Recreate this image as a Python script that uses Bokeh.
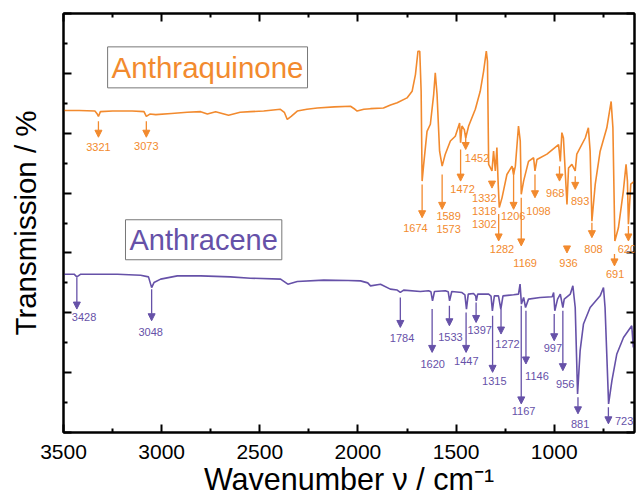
import math
from bokeh.plotting import figure
from bokeh.models import (Range1d, LinearAxis, FixedTicker, Label, LabelSet,
                          Arrow, NormalHead, ColumnDataSource)
from bokeh.embed import file_html
from bokeh.resources import INLINE
from bokeh.core.properties import value

# ---------------- data ----------------
anthraquinone_wn = [3500, 3420, 3340, 3330, 3322, 3312, 3250, 3150, 3090, 3078, 3060, 3030, 2950, 2870,
                    2801, 2767, 2725, 2659, 2600, 2547, 2480, 2395, 2375, 2360, 2340, 2309, 2260, 2207,
                    2120, 2038, 2015, 2004, 1970, 1936, 1870, 1834, 1800, 1750, 1724, 1707, 1694, 1685,
                    1678, 1673, 1665, 1648, 1631, 1614, 1606, 1597, 1584, 1571, 1555, 1529, 1504, 1482,
                    1477, 1470, 1458, 1451, 1436, 1402, 1377, 1360, 1346, 1340, 1334, 1317, 1309, 1300,
                    1292, 1286, 1280, 1266, 1241, 1215, 1207, 1198, 1182, 1173, 1168, 1156, 1131, 1105,
                    1098, 1088, 1037, 978, 969, 961, 953, 935, 927, 910, 893, 885, 842, 826, 817, 808,
                    791, 766, 732, 710, 701, 691, 673, 648, 634, 627, 622, 610, 591]
anthraquinone_t = [5.38, 5.38, 5.37, 5.33, 5.28, 5.36, 5.37, 5.37, 5.36, 5.28, 5.32, 5.31, 5.33, 5.35,
                   5.36, 5.32, 5.36, 5.30, 5.35, 5.36, 5.37, 5.40, 5.35, 5.23, 5.28, 5.37, 5.40, 5.42,
                   5.44, 5.45, 5.40, 5.37, 5.40, 5.41, 5.42, 5.47, 5.51, 5.59, 5.70, 5.98, 6.37, 6.37,
                   5.70, 4.20, 4.48, 5.03, 5.15, 5.65, 6.01, 5.65, 4.70, 4.45, 4.65, 4.87, 4.95, 5.17,
                   4.84, 5.12, 5.06, 4.92, 5.12, 5.40, 5.70, 6.03, 6.37, 6.20, 4.48, 4.37, 4.70, 4.37,
                   4.76, 4.20, 3.76, 3.92, 4.31, 4.45, 4.31, 4.45, 5.12, 4.87, 3.98, 4.20, 4.53, 4.59,
                   4.37, 4.56, 4.65, 4.81, 4.53, 5.01, 4.92, 3.81, 4.42, 4.48, 4.37, 4.65, 4.92, 5.09,
                   4.70, 3.53, 4.15, 4.70, 5.09, 5.53, 5.09, 3.20, 3.42, 4.03, 4.48, 4.20, 3.48, 4.15, 4.20]

anthracene_wn = [3500, 3446, 3432, 3412, 3300, 3225, 3107, 3067, 3051, 3039, 3005, 2920, 2801, 2650,
                 2547, 2394, 2357, 2309, 2174, 2050, 1987, 1950, 1936, 1885, 1835, 1800, 1784, 1767,
                 1682, 1640, 1628, 1620, 1610, 1555, 1540, 1533, 1522, 1470, 1455, 1447, 1438, 1411,
                 1400, 1397, 1390, 1334, 1322, 1315, 1305, 1284, 1272, 1261, 1207, 1182, 1174, 1167,
                 1156, 1146, 1131, 1072, 1010, 1003, 997, 983, 969, 956, 949, 918, 905, 893, 881, 868,
                 851, 817, 766, 749, 741, 723, 706, 681, 647, 605, 597, 591]
anthracene_t = [2.645, 2.645, 2.60, 2.645, 2.645, 2.645, 2.628, 2.60, 2.42, 2.505, 2.562, 2.617, 2.617, 2.60,
                2.578, 2.562, 2.478, 2.522, 2.545, 2.54, 2.533, 2.50, 2.45, 2.478, 2.395, 2.38, 2.34, 2.378,
                2.355, 2.367, 2.35, 2.20, 2.355, 2.367, 2.35, 2.20, 2.355, 2.338, 2.30, 2.062, 2.312, 2.322,
                2.28, 2.20, 2.312, 2.312, 2.28, 2.033, 2.283, 2.283, 2.062, 2.283, 2.30, 2.312, 2.478, 2.145,
                2.255, 2.088, 2.228, 2.255, 2.267, 2.338, 2.033, 2.228, 2.312, 2.088, 2.228, 2.312, 2.45, 2.088, 0.645, 1.367,
                1.812, 2.088, 2.283, 2.422, 2.088, 0.478, 0.867, 1.312, 1.588, 1.783, 1.422, 1.50]

# peak annotations: arrow position, arrow top/bottom, label position, label text
aq_arrow_x = [3322, 3078, 1673, 1571, 1477, 1451, 1317, 1283, 1207, 1168, 1098, 973, 935, 893, 808, 693, 622]
aq_arrow_y0 = [5.20, 5.20, 4.145, 4.312, 4.728, 5.005, 4.20, 3.65, 4.422, 3.922, 4.312, 4.45, 3.117, 4.283, 3.505, 2.983, 3.45]
aq_arrow_y1 = [4.933, 4.933, 3.588, 3.728, 4.20, 4.728, 4.083, 3.20, 3.728, 3.117, 3.922, 4.20, 3.0, 4.062, 3.255, 2.783, 3.20]
aq_label_x = [3322, 3078, 1707, 1538, 1538, 1467, 1393, 1356, 1356, 1356, 1266, 1209, 1148, 1080, 995, 927, 868, 800, 690, 630]
aq_label_y = [4.767, 4.783, 3.422, 3.617, 3.405, 4.062, 4.588, 3.922, 3.70, 3.488, 3.062, 3.617, 2.838, 3.70, 4.005, 2.838, 3.867, 3.062, 2.645, 3.062]
aq_label_text = ["3321", "3073", "1674", "1589", "1573", "1472", "1452", "1332", "1318", "1302", "1282",
                 "1206", "1169", "1098", "968", "936", "893", "808", "691", "620"]

an_arrow_x = [3432, 3051, 1784, 1622, 1534, 1449, 1398, 1314, 1271, 1168, 1144, 1000, 956, 879, 724]
an_arrow_y0 = [2.588, 2.395, 2.255, 2.062, 2.117, 2.005, 2.172, 1.95, 2.062, 2.117, 2.033, 1.978, 2.033, 0.588, 0.422]
an_arrow_y1 = [2.062, 1.867, 1.755, 1.338, 1.783, 1.338, 1.838, 1.005, 1.645, 0.478, 1.145, 1.533, 1.033, 0.312, 0.145]
an_label_x = [3395, 3056, 1775, 1619, 1529, 1448, 1380, 1305, 1238, 1156, 1088, 1007, 944, 868, 644]
an_label_y = [1.933, 1.672, 1.578, 1.145, 1.60, 1.188, 1.712, 0.867, 1.478, 0.367, 0.95, 1.412, 0.812, 0.145, 0.20]
an_label_text = ["3428", "3048", "1784", "1620", "1533", "1447", "1397", "1315", "1272", "1167", "1146",
                 "997", "956", "881", "723"]

x_major = [3500, 3000, 2500, 2000, 1500, 1000]
x_minor = [3250, 2750, 2250, 1750, 1250, 750]
y_major = [0, 1, 2, 3, 4, 5, 6, 7]
y_minor = [0.5, 1.5, 2.5, 3.5, 4.5, 5.5, 6.5]

ORANGE = "#F28A2E"
PURPLE = "#6651A8"
FONT = "Liberation Sans"

p = figure(width=636, height=498, x_range=Range1d(3500, 591), y_range=Range1d(0, 7),
           output_backend="svg", toolbar_location=None,
           min_border_left=63, min_border_right=2, min_border_top=13, min_border_bottom=66)
p.grid.visible = False
p.outline_line_color = "black"
p.outline_line_width = 2
p.background_fill_color = "white"
p.border_fill_color = "white"

xt = FixedTicker(ticks=x_major, minor_ticks=x_minor)
yt = FixedTicker(ticks=y_major, minor_ticks=y_minor)


def style_axis(ax):
    ax.axis_line_width = 2
    ax.major_tick_line_width = 2
    ax.minor_tick_line_width = 2
    ax.major_tick_in = 8
    ax.major_tick_out = 0
    ax.minor_tick_in = 4
    ax.minor_tick_out = 0


for ax in p.xaxis:
    ax.ticker = xt
    style_axis(ax)
    ax.major_label_text_font = FONT
    ax.major_label_text_font_size = "21px"
    ax.major_label_text_color = "black"
    ax.major_label_standoff = 12
    ax.axis_label = "Wavenumber ν / cm⁻¹"
    ax.axis_label_text_font = FONT
    ax.axis_label_text_font_size = "30.5px"
    ax.axis_label_text_font_style = "normal"
    ax.axis_label_text_color = "black"
    ax.axis_label_standoff = 0

for ax in p.yaxis:
    ax.ticker = yt
    style_axis(ax)
    ax.major_label_overrides = {v: "" for v in y_major}
    ax.major_label_text_font_size = "1px"
    ax.major_label_standoff = 0
    ax.axis_label = "Transmission / %"
    ax.axis_label_text_font = FONT
    ax.axis_label_text_font_size = "29.5px"
    ax.axis_label_text_font_style = "normal"
    ax.axis_label_text_color = "black"
    ax.axis_label_standoff = 22

top = LinearAxis(ticker=xt, major_label_overrides={v: "" for v in x_major},
                 major_label_text_font_size="1px", major_label_standoff=0)
style_axis(top)
p.add_layout(top, "above")
right = LinearAxis(ticker=yt, major_label_overrides={v: "" for v in y_major},
                   major_label_text_font_size="1px", major_label_standoff=0)
style_axis(right)
p.add_layout(right, "right")

# spectra
p.line(anthraquinone_wn, anthraquinone_t, line_color=ORANGE, line_width=1.6)
p.line(anthracene_wn, anthracene_t, line_color=PURPLE, line_width=1.6)

# arrows and labels
for ax_, y0, y1, lx, ly, lt, col in [
        (aq_arrow_x, aq_arrow_y0, aq_arrow_y1, aq_label_x, aq_label_y, aq_label_text, ORANGE),
        (an_arrow_x, an_arrow_y0, an_arrow_y1, an_label_x, an_label_y, an_label_text, PURPLE)]:
    asrc = ColumnDataSource(dict(x=ax_, y0=y0, y1=y1))
    p.add_layout(Arrow(end=NormalHead(size=7, fill_color=col, line_color=col, line_width=1),
                       x_start="x", y_start="y0", x_end="x", y_end="y1", source=asrc,
                       line_color=col, line_width=1.3))
    lsrc = ColumnDataSource(dict(x=lx, y=ly, t=lt))
    p.add_layout(LabelSet(x="x", y="y", text="t", source=lsrc, text_align="center",
                          text_baseline="middle", text_font=value(FONT), text_font_size="11px",
                          text_color=col))

# compound name boxes
p.add_layout(Label(x=2766, y=6.10, text="Anthraquinone", text_font=FONT, text_font_size="29.5px",
                   text_color=ORANGE, text_align="center", text_baseline="middle",
                   border_line_color="#777777", border_line_width=1,
                   background_fill_color="white", padding=4))
p.add_layout(Label(x=2786, y=3.22, text="Anthracene", text_font=FONT, text_font_size="29px",
                   text_color=PURPLE, text_align="center", text_baseline="middle",
                   border_line_color="#777777", border_line_width=1,
                   background_fill_color="white", padding=4))

open("out.html", "w").write(file_html(p, INLINE))
